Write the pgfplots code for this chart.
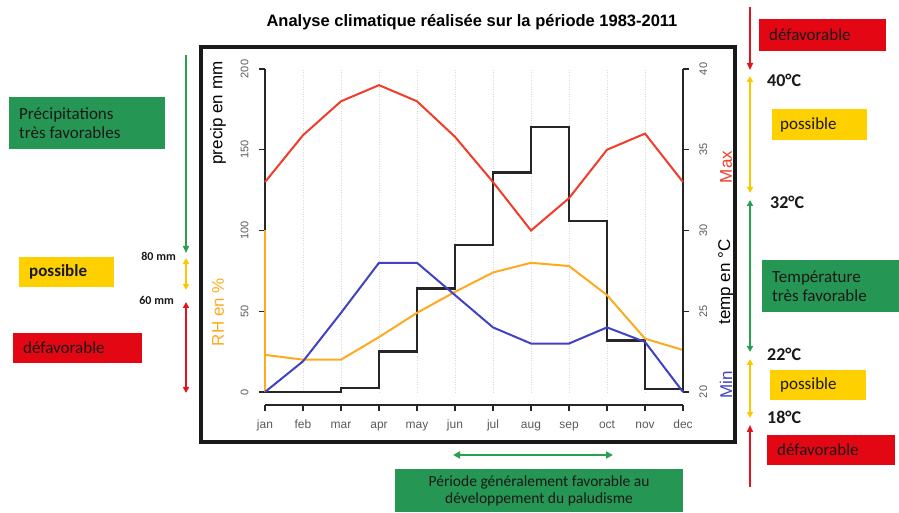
\documentclass[border=0pt]{standalone}
\usepackage{fontspec}
\setmainfont{Carlito}
\newfontfamily\arial{Liberation Sans}
\usepackage{pgfplots}
\pgfplotsset{compat=1.18}
\usetikzlibrary{arrows.meta}
\definecolor{gbox}{RGB}{38,150,84}
\definecolor{ybox}{RGB}{255,208,0}
\definecolor{rbox}{RGB}{227,6,19}
\definecolor{garrow}{RGB}{40,160,80}
\definecolor{yarrow}{RGB}{250,200,0}
\definecolor{rarrow}{RGB}{225,20,30}
\definecolor{maxc}{RGB}{240,60,40}
\definecolor{minc}{RGB}{65,65,195}
\definecolor{rhc}{RGB}{255,170,30}
\definecolor{txt}{RGB}{25,25,25}
\definecolor{tickc}{RGB}{90,90,90}
\tikzset{
  one/.style={line width=1.5pt,-{Triangle[length=7pt,width=6pt]}},
  two/.style={line width=1.5pt,{Triangle[length=6pt,width=6pt]}-{Triangle[length=6pt,width=6pt]}},
  boxtxt/.style={text=txt,font=\fontsize{17}{19}\selectfont,inner sep=0pt},
  deg/.style={text=txt,font=\bfseries\fontsize{18}{20}\selectfont,inner sep=0pt,anchor=west},
  mm/.style={text=txt,font=\bfseries\fontsize{12}{14}\selectfont,inner sep=0pt,anchor=east},
  lab/.style={rotate=90,font=\arial\fontsize{17}{20}\selectfont,inner sep=0pt},
}
\begin{document}
\begin{tikzpicture}[x=1pt,y=1pt]
\path[use as bounding box] (0,0) rectangle (899,513);

% title
\node[font=\arial\bfseries\fontsize{16.5}{19}\selectfont] at (472,491) {Analyse climatique réalisée sur la période 1983-2011};

% left axis: precipitation and RH
\begin{axis}[
 at={(265pt,121pt)}, anchor=south west, scale only axis,
 width=418pt, height=323pt,
 xmin=1, xmax=12, ymin=0, ymax=200,
 axis x line*=bottom, axis y line*=left,
 axis x line shift=13pt,
 axis line style={-, line width=1.5pt, black!85},
 tick align=outside, major tick length=6pt,
 every tick/.style={black!85, line width=1.2pt},
 xtick={1,...,12},
 xticklabels={jan,feb,mar,apr,may,jun,jul,aug,sep,oct,nov,dec},
 ytick={0,50,100,150,200},
 /pgf/number format/assume math mode=true,
 xmajorgrids, grid style={gray!30, dotted, line width=0.6pt},
 ticklabel style={font=\arial\fontsize{11}{12}\selectfont, text=tickc},
 xticklabel style={font=\arial\fontsize{12}{13}\selectfont, text height=9pt, text depth=3pt},
 yticklabel style={rotate=90, anchor=south},
 yticklabel shift=7pt,
 xticklabel shift=5pt,
 clip=false,
]
\addplot[black!85, line width=2.5pt, const plot] coordinates {(1,0)(2,0)(3,2.5)(4,25)(5,64)(6,91)(7,136)(8,164)(9,106)(10,32)(11,2)(12,0)};
\addplot[rhc, line width=2pt] coordinates {(1,23)(2,20)(3,20)(4,34)(5,49)(6,62)(7,74)(8,80)(9,78)(10,60)(11,33)(12,26)};
\draw[rhc, line width=1.5pt] (axis cs:1,0) -- (axis cs:1,100);
\end{axis}

% right axis: temperatures
\begin{axis}[
 at={(265pt,121pt)}, anchor=south west, scale only axis,
 width=418pt, height=323pt,
 xmin=1, xmax=12, ymin=20, ymax=40,
 axis x line=none, axis y line*=right,
 axis line style={-, line width=1.5pt, black!85},
 tick align=outside, major tick length=6pt,
 every tick/.style={black!85, line width=1.2pt},
 xtick=\empty,
 ytick={20,25,30,35,40},
 /pgf/number format/assume math mode=true,
 ticklabel style={font=\arial\fontsize{11}{12}\selectfont, text=tickc},
 yticklabel style={rotate=90, anchor=north},
 yticklabel shift=7pt,
 clip=false,
]
\addplot[minc, line width=2pt] coordinates {(1,20)(2,21.9)(3,24.9)(4,28)(5,28)(6,26)(7,24)(8,23)(9,23)(10,24)(11,23.1)(12,20)};
\addplot[maxc, line width=2pt] coordinates {(1,33)(2,35.9)(3,38)(4,39)(5,38)(6,35.8)(7,33)(8,30)(9,32)(10,35)(11,36)(12,33)};
\end{axis}

% axis titles
\node[lab] at (218,400) {precip en mm};
\node[lab,text=rhc] at (218,201) {RH en \%};
\node[lab,text=maxc] at (726,346) {Max};
\node[lab] at (726,231) {temp en °C};
\node[lab,text=minc] at (726,128) {Min};

% frame
\draw[line width=3.5pt, black!90] (201,71) rectangle (735,466);

% left annotations
\draw[garrow, one] (186,458) -- (186,260);
\fill[gbox] (9,364) rectangle (165,416);
\node[boxtxt, anchor=west, align=left] at (19,390) {Précipitations\\très favorables};
\node[mm] at (176,257) {80 mm};
\draw[yarrow, two] (186,255) -- (186,223);
\fill[ybox] (19,226) rectangle (114,256);
\node[boxtxt, anchor=west, font=\bfseries\fontsize{17}{19}\selectfont] at (29,241) {possible};
\node[mm] at (174,213) {60 mm};
\draw[rarrow, two] (186,211) -- (186,120);
\fill[rbox] (13,150) rectangle (142,180);
\node[boxtxt, anchor=west] at (23,165) {défavorable};

% right annotations
\draw[rarrow, one] (750,506) -- (750,443);
\fill[rbox] (759,462) rectangle (886,494);
\node[boxtxt, anchor=west] at (769,478) {défavorable};
\node[deg] at (767,433) {40°C};
\draw[yarrow, two] (750,437) -- (750,320);
\fill[ybox] (772,373) rectangle (867,404);
\node[boxtxt, anchor=west] at (780,388.5) {possible};
\node[deg] at (770,311) {32°C};
\draw[garrow, two] (750,313) -- (750,161);
\fill[gbox] (762,201) rectangle (899,253);
\node[boxtxt, anchor=west, align=left] at (772,227) {Température\\très favorable};
\node[deg] at (767,159) {22°C};
\draw[yarrow, two] (750,154) -- (750,95);
\fill[ybox] (770,113) rectangle (866,143);
\node[boxtxt, anchor=west] at (780,128) {possible};
\node[deg] at (767,96) {18°C};
\draw[rarrow, one] (750,26) -- (750,88);
\fill[rbox] (767,48) rectangle (895,78);
\node[boxtxt, anchor=west] at (777,63) {défavorable};

% bottom annotation
\draw[garrow, line width=2pt, {Triangle[length=7pt,width=7pt]}-{Triangle[length=7pt,width=7pt]}] (453,58) -- (613,58);
\fill[gbox] (395,1) rectangle (683,44);
\node[boxtxt, align=center, font=\fontsize{15.5}{17}\selectfont] at (539,22.5) {Période généralement favorable au\\développement du paludisme};
\end{tikzpicture}
\end{document}
